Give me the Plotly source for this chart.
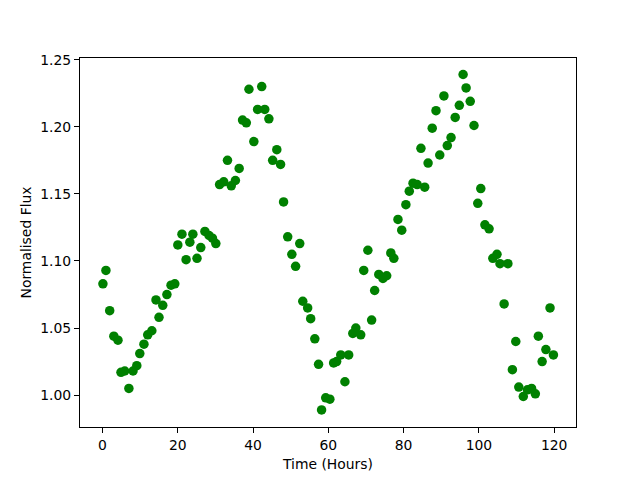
import plotly.graph_objects as go

time_hours = [0.1, 0.9, 1.9, 3.0, 4.1, 4.9, 5.9, 7.0, 8.1, 9.1,
              9.9, 11.0, 12.0, 13.1, 14.2, 15.0, 16.0, 17.1, 18.2, 19.2,
              20.0, 21.1, 22.2, 23.2, 24.0, 25.1, 26.1, 27.2, 28.3, 29.2,
              30.1, 31.1, 32.2, 33.2, 34.2, 35.3, 36.3, 37.2, 38.2, 38.9,
              40.2, 41.2, 42.3, 43.1, 44.2, 45.2, 46.3, 47.3, 48.1, 49.2,
              50.3, 51.3, 52.4, 53.2, 54.5, 55.3, 56.4, 57.4, 58.2, 59.3,
              60.4, 61.4, 62.2, 63.3, 64.4, 65.4, 66.5, 67.3, 68.6, 69.4,
              70.5, 71.5, 72.3, 73.4, 74.5, 75.5, 76.6, 77.4, 78.5, 79.5,
              80.6, 81.5, 82.5, 83.6, 84.6, 85.6, 86.5, 87.6, 88.6, 89.6,
              90.7, 91.6, 92.6, 93.7, 94.8, 95.8, 96.6, 97.7, 98.7, 99.7,
              100.5, 101.6, 102.7, 103.7, 104.8, 105.6, 106.7, 107.7, 108.9, 109.8,
              110.6, 111.8, 112.9, 114.0, 115.0, 115.8, 116.8, 117.8, 118.9, 119.8]

norm_flux = [1.083, 1.093, 1.063, 1.044, 1.041, 1.017, 1.018, 1.005, 1.018, 1.022,
             1.031, 1.038, 1.045, 1.048, 1.071, 1.058, 1.067, 1.075, 1.082, 1.083,
             1.112, 1.120, 1.101, 1.114, 1.120, 1.102, 1.110, 1.122, 1.119, 1.117,
             1.113, 1.157, 1.159, 1.175, 1.156, 1.160, 1.169, 1.205, 1.203, 1.228,
             1.189, 1.213, 1.230, 1.213, 1.206, 1.175, 1.183, 1.172, 1.144, 1.118,
             1.105, 1.096, 1.113, 1.070, 1.065, 1.057, 1.042, 1.023, 0.989, 0.998,
             0.997, 1.024, 1.025, 1.030, 1.010, 1.030, 1.046, 1.050, 1.045, 1.093,
             1.108, 1.056, 1.078, 1.090, 1.087, 1.089, 1.106, 1.102, 1.131, 1.123,
             1.142, 1.152, 1.158, 1.157, 1.184, 1.155, 1.173, 1.199, 1.212, 1.179,
             1.223, 1.186, 1.192, 1.207, 1.216, 1.239, 1.229, 1.219, 1.201, 1.143,
             1.154, 1.127, 1.124, 1.102, 1.105, 1.098, 1.068, 1.098, 1.019, 1.040,
             1.006, 0.999, 1.004, 1.005, 1.001, 1.044, 1.025, 1.034, 1.065, 1.030]

x_ticks = [0, 20, 40, 60, 80, 100, 120]
y_ticks = [1.00, 1.05, 1.10, 1.15, 1.20, 1.25]

fig = go.Figure(go.Scatter(
    x=time_hours, y=norm_flux, mode="markers",
    marker=dict(color="#008000", size=9.5, line=dict(width=0)),
))

font = dict(family="DejaVu Sans", size=13.9, color="black")
fig.update_layout(
    width=632, height=472,
    margin=dict(l=72, r=64, t=50, b=53),
    plot_bgcolor="white", paper_bgcolor="white",
    font=font, showlegend=False,
)
fig.update_xaxes(
    range=[-5.99, 125.8], tickvals=x_ticks, ticktext=[str(v) for v in x_ticks],
    showgrid=False, zeroline=False, showline=True, linecolor="black", linewidth=1,
    mirror=True, ticks="outside", ticklen=5, tickcolor="black",
    title=dict(text="Time (Hours)", font=font, standoff=7),
)
fig.update_yaxes(
    range=[0.97627, 1.2513], tickvals=y_ticks, ticktext=[f"{v:.2f}" for v in y_ticks],
    showgrid=False, zeroline=False, showline=True, linecolor="black", linewidth=1,
    mirror=True, ticks="outside", ticklen=5, tickcolor="black",
    title=dict(text="Normalised Flux", font=font, standoff=5),
)
fig.write_html("out.html")
